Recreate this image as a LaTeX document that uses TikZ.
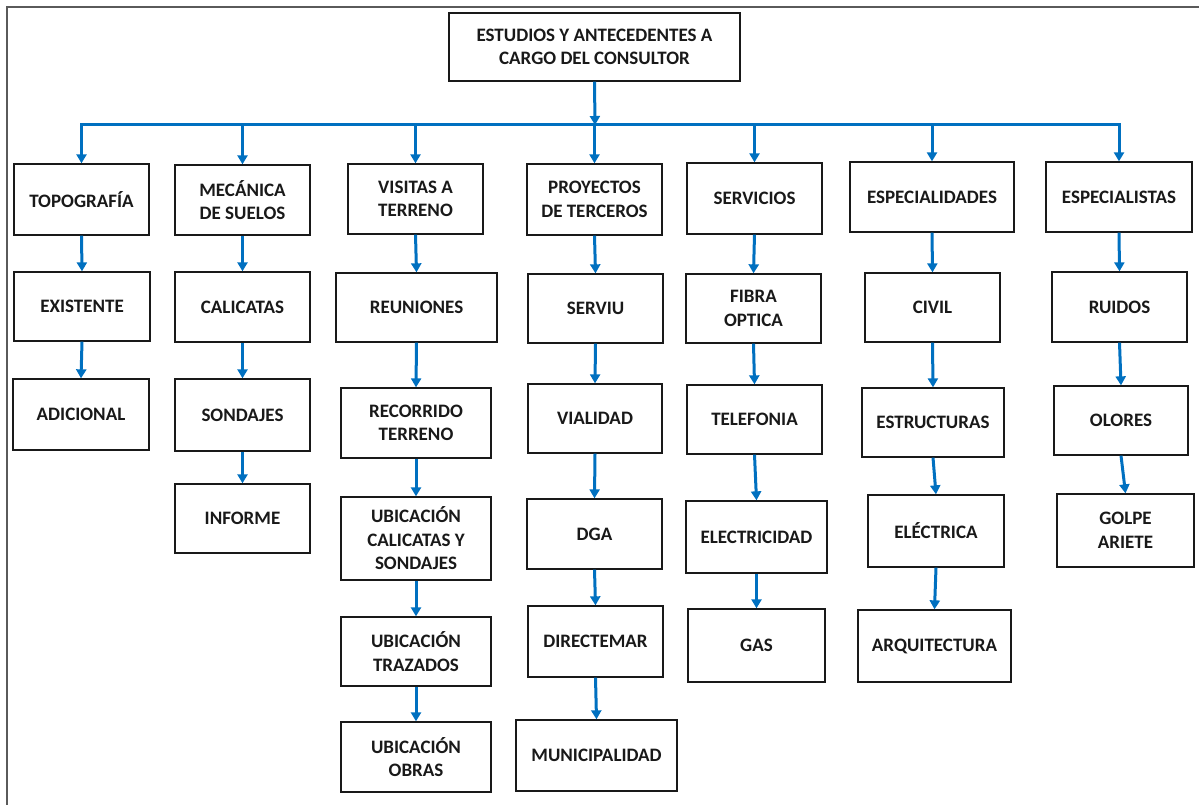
\documentclass[tikz,border=0pt]{standalone}
\usepackage{fontspec}
\setmainfont{Carlito}
\usetikzlibrary{arrows.meta}
\definecolor{linkblue}{RGB}{0,112,192}
\definecolor{framegray}{RGB}{90,90,90}
\tikzset{
  box/.style={draw=black!90, line width=1.3pt, fill=white, inner sep=2pt,
    align=center, font=\fontsize{19}{23.5}\selectfont\bfseries, text=black!90},
  sz/.style 2 args={minimum width=#1pt, minimum height=#2pt},
  wire/.style={draw=linkblue, line width=3pt},
  arr/.style={wire, -{Triangle[width=10pt,length=9pt]}},
}
\begin{document}
\begin{tikzpicture}[x=1pt, y=-1pt]
\useasboundingbox (0,0) rectangle (1199,805);
% page frame (top and left edges)
\draw[framegray, line width=1.5pt] (7,805) -- (7,7) -- (1199,7);

% root
\node[box, sz={291}{68}] (root) at (594.5,47) {ESTUDIOS Y ANTECEDENTES A\\CARGO DEL CONSULTOR};

% first level
\node[box, sz={135}{71}] (topo) at (81.5,199.5) {TOPOGRAFÍA};
\node[box, sz={135}{70}] (meca) at (242.5,200) {MECÁNICA\\DE SUELOS};
\node[box, sz={135}{70}] (visi) at (415.5,199) {VISITAS A\\TERRENO};
\node[box, sz={135}{71}] (proy) at (594.5,199.5) {PROYECTOS\\DE TERCEROS};
\node[box, sz={135}{71}] (serv) at (754.5,198.5) {SERVICIOS};
\node[box, sz={164}{70}] (espd) at (932,197) {ESPECIALIDADES};
\node[box, sz={146}{70}] (espt) at (1119,197) {ESPECIALISTAS};

% second level
\node[box, sz={136}{69}] (exis) at (82,306.5) {EXISTENTE};
\node[box, sz={135}{70}] (cali) at (242.5,307) {CALICATAS};
\node[box, sz={161}{69}] (reun) at (416.5,307.5) {REUNIONES};
\node[box, sz={135}{69}] (sviu) at (595.5,308.5) {SERVIU};
\node[box, sz={135}{69}] (fibr) at (753.5,308.5) {FIBRA\\OPTICA};
\node[box, sz={135}{69}] (civi) at (932.5,307.5) {CIVIL};
\node[box, sz={135}{70}] (ruid) at (1119.5,307) {RUIDOS};

% third level
\node[box, sz={136}{71}] (adic) at (81,414.5) {ADICIONAL};
\node[box, sz={135}{72}] (sond) at (242.5,415) {SONDAJES};
\node[box, sz={150}{70}] (reco) at (416,423) {RECORRIDO\\TERRENO};
\node[box, sz={134}{69}] (vial) at (595,418.5) {VIALIDAD};
\node[box, sz={135}{69}] (tele) at (754.5,419.5) {TELEFONIA};
\node[box, sz={142}{69}] (estr) at (933,422.5) {ESTRUCTURAS};
\node[box, sz={134}{69}] (olor) at (1121,420.5) {OLORES};

% fourth level
\node[box, sz={135}{69}] (info) at (242.5,518.5) {INFORME};
\node[box, sz={150}{83}] (ubca) at (416,538.5) {UBICACIÓN\\CALICATAS Y\\SONDAJES};
\node[box, sz={135}{70}] (dga)  at (594.5,534) {DGA};
\node[box, sz={141}{72}] (elec) at (756.5,537) {ELECTRICIDAD};
\node[box, sz={136}{72}] (elca) at (936,531) {ELÉCTRICA};
\node[box, sz={137}{73}] (golp) at (1125.5,530.5) {GOLPE\\ARIETE};

% fifth level
\node[box, sz={150}{69}] (ubtr) at (416,651.5) {UBICACIÓN\\TRAZADOS};
\node[box, sz={135}{71}] (dire) at (595.5,641.5) {DIRECTEMAR};
\node[box, sz={137}{73}] (gas)  at (756.5,645.5) {GAS};
\node[box, sz={153}{72}] (arqu) at (934.5,646) {ARQUITECTURA};

% sixth level
\node[box, sz={150}{70}] (ubob) at (416,757) {UBICACIÓN\\OBRAS};
\node[box, sz={161}{71}] (muni) at (596.5,755.5) {MUNICIPALIDAD};

% distribution bus
\coordinate (bus) at (595,125);
\draw[arr] (root.south) -- (bus);
\draw[wire, line cap=rect] (topo.north |- bus) -- (espt.north |- bus);
\foreach \n in {topo,meca,visi,proy,serv,espd,espt}
  \draw[arr] (\n.north |- bus) -- (\n.north);

% column links
\foreach \a/\b in {topo/exis, exis/adic,
                   meca/cali, cali/sond, sond/info,
                   visi/reun, reun/reco, reco/ubca, ubca/ubtr, ubtr/ubob,
                   proy/sviu, sviu/vial, vial/dga, dga/dire, dire/muni,
                   serv/fibr, fibr/tele, tele/elec, elec/gas,
                   espd/civi, civi/estr, estr/elca, elca/arqu,
                   espt/ruid, ruid/olor, olor/golp}
  \draw[arr] (\a.south) -- (\b.north);
\end{tikzpicture}
\end{document}
